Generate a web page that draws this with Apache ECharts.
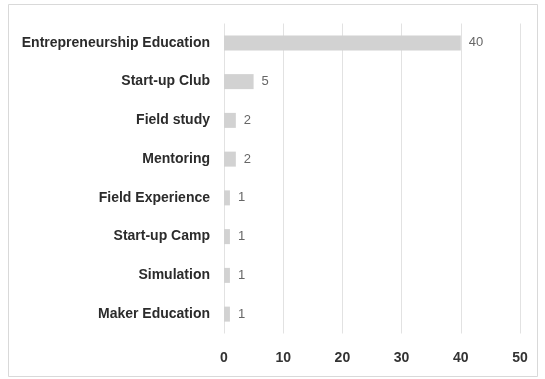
<!DOCTYPE html>
<html>
<head>
<meta charset="utf-8">
<script src="https://cdn.jsdelivr.net/npm/echarts@6/dist/echarts.min.js"></script>
<style>
  html, body { margin: 0; padding: 0; background: #fff; }
  #chart { width: 545px; height: 379px; }
</style>
</head>
<body>
<div id="chart"></div>
<script>
// Programme types and how many cases used each
const categories = [
  'Entrepreneurship Education',
  'Start-up Club',
  'Field study',
  'Mentoring',
  'Field Experience',
  'Start-up Camp',
  'Simulation',
  'Maker Education'
];
const counts = [40, 5, 2, 2, 1, 1, 1, 1];
const xTicks = [0, 10, 20, 30, 40, 50];

const labelFont = '"Liberation Sans", Arial, sans-serif';

const chart = echarts.init(document.getElementById('chart'), null, { renderer: 'canvas' });
chart.setOption({
  animation: false,
  backgroundColor: '#ffffff',
  graphic: [{
    type: 'rect',
    shape: { x: 8.5, y: 4.5, width: 529, height: 372 },
    style: { fill: 'none', stroke: '#d9d9d9', lineWidth: 1 },
    silent: true,
    z: -1
  }],
  grid: { left: 224, right: 25, top: 23.5, bottom: 45.5, containLabel: false },
  xAxis: {
    type: 'value',
    min: xTicks[0],
    max: xTicks[xTicks.length - 1],
    interval: xTicks[1] - xTicks[0],
    axisLine: { show: false },
    axisTick: { show: false },
    splitLine: { show: true, lineStyle: { color: '#e2e2e2', width: 1 } },
    axisLabel: {
      margin: 18,
      color: '#333333',
      fontFamily: labelFont,
      fontWeight: 'bold',
      fontSize: 14
    }
  },
  yAxis: {
    type: 'category',
    data: categories,
    inverse: true,
    axisLine: { show: false },
    axisTick: { show: false },
    axisLabel: {
      margin: 14,
      color: '#2b2b2b',
      fontFamily: labelFont,
      fontWeight: 'bold',
      fontSize: 14
    }
  },
  series: [{
    type: 'bar',
    data: counts,
    barWidth: 15,
    itemStyle: { color: '#d2d2d2' },
    label: {
      show: true,
      position: 'right',
      distance: 8,
      color: '#666666',
      fontFamily: labelFont,
      fontSize: 13
    }
  }]
});
</script>
</body>
</html>
